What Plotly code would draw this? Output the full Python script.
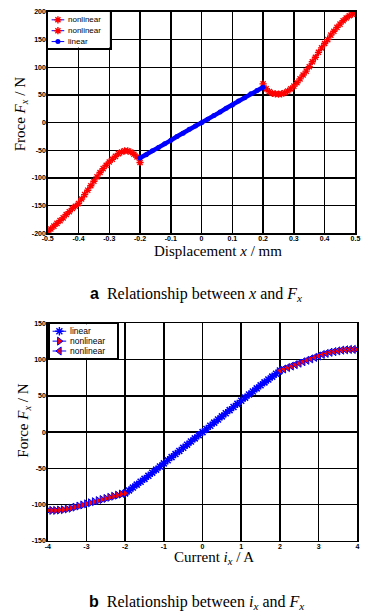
import plotly.graph_objects as go

W, H = 374, 616

# ---------------- data: (a) displacement vs force ----------------
xa_nl_left = [-0.50, -0.49, -0.48, -0.47, -0.46, -0.45, -0.44, -0.43, -0.42, -0.41,
              -0.40, -0.39, -0.38, -0.37, -0.36, -0.35, -0.34, -0.33, -0.32, -0.31,
              -0.30, -0.29, -0.28, -0.27, -0.26, -0.25, -0.24, -0.23, -0.22, -0.21, -0.20]
fa_nl_left = [-197, -192, -187, -182, -177, -172, -166, -161, -155, -151,
              -146, -138, -130, -122, -114, -106, -98, -90, -83, -77,
              -71, -66, -61, -56, -53, -51, -51, -53, -57, -62, -72]

xa_lin = [-0.20, -0.18, -0.16, -0.14, -0.12, -0.10, -0.08, -0.06, -0.04, -0.02, 0.00,
          0.02, 0.04, 0.06, 0.08, 0.10, 0.12, 0.14, 0.16, 0.18, 0.20]
fa_lin = [-64, -58, -51, -45, -38, -32, -25, -19, -12, -6, 0,
          6, 13, 19, 26, 32, 39, 45, 52, 58, 64]

xa_nl_right = [0.20, 0.21, 0.22, 0.23, 0.24, 0.25, 0.26, 0.27, 0.28, 0.29,
               0.30, 0.31, 0.32, 0.33, 0.34, 0.35, 0.36, 0.37, 0.38, 0.39,
               0.40, 0.41, 0.42, 0.43, 0.44, 0.45, 0.46, 0.47, 0.48, 0.49, 0.50]
fa_nl_right = [70, 61, 56, 53, 52, 51.5, 52, 54, 57, 61,
               66, 72, 79, 86, 93, 101, 110, 118, 127, 135,
               143, 150, 158, 165, 172, 178, 184, 189, 193, 196, 198]

xa_tickvals = [-0.5, -0.4, -0.3, -0.2, -0.1, 0, 0.1, 0.2, 0.3, 0.4, 0.5]
xa_ticktext = ["-0.5", "-0.4", "-0.3", "-0.2", "-0.1", "0", "0.1", "0.2", "0.3", "0.4", "0.5"]
ya_tickvals = [-200, -150, -100, -50, 0, 50, 100, 150, 200]
ya_ticktext = ["-200", "-150", "-100", "-50", "0", "50", "100", "150", "200"]

# ---------------- data: (b) current vs force ----------------
ib_nl_left = [-4.0, -3.9, -3.8, -3.7, -3.6, -3.5, -3.4, -3.3, -3.2, -3.1, -3.0,
              -2.9, -2.8, -2.7, -2.6, -2.5, -2.4, -2.3, -2.2, -2.1, -2.0]
fb_nl_left = [-108, -108, -108, -107.5, -107, -106, -105, -103.5, -102, -100.5, -99,
              -97.5, -96, -94.5, -93, -91.5, -90, -88.5, -87, -85.5, -84.5]

ib_lin = [-2.0, -1.9, -1.8, -1.7, -1.6, -1.5, -1.4, -1.3, -1.2, -1.1, -1.0,
          -0.9, -0.8, -0.7, -0.6, -0.5, -0.4, -0.3, -0.2, -0.1, 0.0,
          0.1, 0.2, 0.3, 0.4, 0.5, 0.6, 0.7, 0.8, 0.9, 1.0,
          1.1, 1.2, 1.3, 1.4, 1.5, 1.6, 1.7, 1.8, 1.9, 2.0]
fb_lin = [-84.5, -80.5, -76.5, -72.5, -68.5, -64.5, -60.3, -56, -51.8, -47.5, -43.2,
          -38.9, -34.6, -30.3, -26, -21.7, -17.4, -13, -8.7, -4.3, 0,
          4.3, 8.7, 13, 17.4, 21.7, 26, 30.3, 34.6, 38.9, 43.2,
          47.5, 51.8, 56, 60.3, 64.5, 68.5, 72.5, 76.5, 80.5, 85]

ib_nl_right = [2.0, 2.1, 2.2, 2.3, 2.4, 2.5, 2.6, 2.7, 2.8, 2.9, 3.0,
               3.1, 3.2, 3.3, 3.4, 3.5, 3.6, 3.7, 3.8, 3.9, 4.0]
fb_nl_right = [85, 87, 89, 91, 93, 95, 97, 99, 101, 103, 105,
               107, 108.5, 110, 111, 112, 113, 113.5, 114, 114, 114]

xb_tickvals = [-4, -3, -2, -1, 0, 1, 2, 3, 4]
xb_ticktext = ["-4", "-3", "-2", "-1", "0", "1", "2", "3", "4"]
yb_tickvals = [-150, -100, -50, 0, 50, 100, 150]
yb_ticktext = ["-150", "-100", "-50", "0", "50", "100", "150"]

legend_a = ["nonlinear", "nonlinear", "linear"]
legend_b = ["linear", "nonlinear", "nonlinear"]

# ---------------- styles ----------------
RED = "#ff0000"
BLUE = "#0000ff"
SANS = "Liberation Sans, Arial, sans-serif"
SERIF = "Liberation Serif, Times New Roman, serif"


def px_x(p):
    return p / W


def px_y(p):
    return 1 - p / H


fig = go.Figure()

star_red = dict(symbol="asterisk-open", size=6, color=RED, line=dict(color=RED, width=1.4))

# (a) traces
fig.add_trace(go.Scatter(x=xa_nl_left, y=fa_nl_left, mode="lines+markers", xaxis="x", yaxis="y",
                         line=dict(color=BLUE, width=1), marker=star_red, showlegend=False))
fig.add_trace(go.Scatter(x=xa_nl_right, y=fa_nl_right, mode="lines+markers", xaxis="x", yaxis="y",
                         line=dict(color=BLUE, width=1), marker=star_red, showlegend=False))
fig.add_trace(go.Scatter(x=xa_lin, y=fa_lin, mode="lines+markers", xaxis="x", yaxis="y",
                         line=dict(color=BLUE, width=4.5),
                         marker=dict(symbol="circle", size=5, color=BLUE),
                         showlegend=False))

# (b) traces
fig.add_trace(go.Scatter(x=ib_lin, y=fb_lin, mode="lines+markers", xaxis="x2", yaxis="y2",
                         line=dict(color=BLUE, width=1.5),
                         marker=dict(symbol="asterisk-open", size=7, color=BLUE,
                                     line=dict(color=BLUE, width=1.6)),
                         showlegend=False))
fig.add_trace(go.Scatter(x=ib_nl_left, y=fb_nl_left, mode="lines+markers", xaxis="x2", yaxis="y2",
                         line=dict(color=BLUE, width=1.5),
                         marker=dict(symbol="triangle-right", size=7, color=RED,
                                     line=dict(color=BLUE, width=1)),
                         showlegend=False))
fig.add_trace(go.Scatter(x=ib_nl_right, y=fb_nl_right, mode="lines+markers", xaxis="x2", yaxis="y2",
                         line=dict(color=BLUE, width=1.5),
                         marker=dict(symbol="triangle-left", size=7, color=RED,
                                     line=dict(color=BLUE, width=1)),
                         showlegend=False))

# ---------------- custom legends (drawn on overlay subplots in pixel units) ----------------
LA = dict(x0=43, x1=107, y0=8, y1=44, rows=[16, 27, 38], l0=47, l1=60, txt=62, fs=8)
LB = dict(x0=45, x1=114, y0=324, y1=358, rows=[331, 341, 351], l0=48, l1=62, txt=64, fs=8.5)

legend_a_style = [
    dict(line=BLUE, lw=1, marker=star_red),
    dict(line=BLUE, lw=1, marker=star_red),
    dict(line=BLUE, lw=1, marker=dict(symbol="circle", size=5, color=BLUE)),
]
legend_b_style = [
    dict(line=BLUE, lw=1, marker=dict(symbol="asterisk-open", size=7, color=BLUE, line=dict(color=BLUE, width=1.4))),
    dict(line=BLUE, lw=1, marker=dict(symbol="triangle-right", size=7, color=RED, line=dict(color=BLUE, width=1))),
    dict(line=BLUE, lw=1, marker=dict(symbol="triangle-left", size=7, color=RED, line=dict(color=BLUE, width=1))),
]

annotations = []
for L, labels, styles, xr, yr in [(LA, legend_a, legend_a_style, "x3", "y3"),
                                  (LB, legend_b, legend_b_style, "x4", "y4")]:
    for row, lab, st in zip(L["rows"], labels, styles):
        fig.add_trace(go.Scatter(x=[L["l0"], L["l1"]], y=[-row, -row], mode="lines",
                                 xaxis=xr, yaxis=yr, line=dict(color=st["line"], width=st["lw"]),
                                 showlegend=False, hoverinfo="skip"))
        fig.add_trace(go.Scatter(x=[(L["l0"] + L["l1"]) / 2], y=[-row], mode="markers",
                                 xaxis=xr, yaxis=yr, marker=st["marker"],
                                 showlegend=False, hoverinfo="skip"))
        annotations.append(dict(x=L["txt"], y=-row, xref=xr, yref=yr, text=lab, showarrow=False,
                                xanchor="left", yanchor="middle",
                                font=dict(family=SANS, size=L["fs"], color="black")))

# ---------------- titles and captions ----------------
def ann(text, xp, yp, size, angle=0):
    return dict(text=text, x=px_x(xp), y=px_y(yp), xref="paper", yref="paper",
                showarrow=False, xanchor="center", yanchor="middle", textangle=angle,
                font=dict(family=SERIF, size=size, color="black"))


annotations += [
    ann("Displacement <i>x</i> / mm", 218, 250, 15),
    ann("Froce <i>F</i><sub><i>x</i></sub> / N", 15, 112, 15, -90),
    ann('<span style="font-family:Liberation Sans"><b>a</b></span>  Relationship between <i>x</i> and <i>F</i><sub><i>x</i></sub>',
        196, 294, 16),
    ann("Current <i>i</i><sub><i>x</i></sub> / A", 214, 560, 15),
    ann("Force <i>F</i><sub><i>x</i></sub> / N", 19, 421, 15, -90),
    ann('<span style="font-family:Liberation Sans"><b>b</b></span>  Relationship between <i>i</i><sub><i>x</i></sub> and <i>F</i><sub><i>x</i></sub>',
        196, 605, 16),
]

tickfont = dict(family=SANS, size=7, color="black", weight="bold")
axis_common = dict(showgrid=True, gridcolor="black", gridwidth=1.5, showline=True, linecolor="black",
                   linewidth=1.5, mirror=True, zeroline=False, ticks="", ticklen=0, tickfont=tickfont,
                   tickmode="array", fixedrange=True)
leg_axis = dict(showgrid=False, zeroline=False, showticklabels=False, ticks="", showline=True,
                linecolor="black", linewidth=2, mirror=True, fixedrange=True)

fig.update_layout(
    width=W, height=H, margin=dict(l=0, r=0, t=0, b=0),
    paper_bgcolor="white", plot_bgcolor="white", showlegend=False,
    xaxis=dict(domain=[px_x(43), px_x(360)], range=[-0.5, 0.5], anchor="y",
               tickvals=xa_tickvals, ticktext=xa_ticktext, ticklabelstandoff=-2, **axis_common),
    yaxis=dict(domain=[px_y(232), px_y(8)], range=[-200, 200], anchor="x",
               tickvals=ya_tickvals, ticktext=ya_ticktext, ticklabelstandoff=-1, **axis_common),
    xaxis2=dict(domain=[px_x(43), px_x(362)], range=[-4, 4], anchor="y2",
                tickvals=xb_tickvals, ticktext=xb_ticktext, ticklabelstandoff=-2, **axis_common),
    yaxis2=dict(domain=[px_y(543), px_y(323)], range=[-150, 150], anchor="x2",
                tickvals=yb_tickvals, ticktext=yb_ticktext, ticklabelstandoff=-1, **axis_common),
    xaxis3=dict(domain=[px_x(LA["x0"]), px_x(LA["x1"])], range=[LA["x0"], LA["x1"]], anchor="y3", **leg_axis),
    yaxis3=dict(domain=[px_y(LA["y1"]), px_y(LA["y0"])], range=[-LA["y1"], -LA["y0"]], anchor="x3", **leg_axis),
    xaxis4=dict(domain=[px_x(LB["x0"]), px_x(LB["x1"])], range=[LB["x0"], LB["x1"]], anchor="y4", **leg_axis),
    yaxis4=dict(domain=[px_y(LB["y1"]), px_y(LB["y0"])], range=[-LB["y1"], -LB["y0"]], anchor="x4", **leg_axis),
    annotations=annotations,
)

fig.write_html("out.html", config={"displayModeBar": False, "staticPlot": True},
               post_script="document.body.style.margin='0';document.body.style.overflow='hidden';")
